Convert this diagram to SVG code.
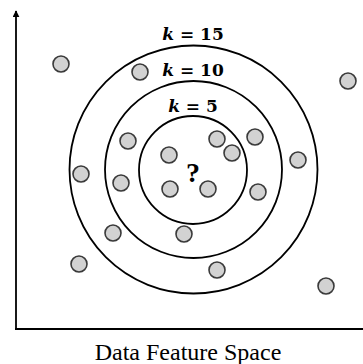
<svg xmlns="http://www.w3.org/2000/svg" width="363" height="364" viewBox="0 0 363 364">
<style>
.pt{fill:#d2d2d2;stroke:#3a3a3a;stroke-width:1.6}
.ring{fill:none;stroke:#000;stroke-width:1.8}
.ax{fill:none;stroke:#000;stroke-width:1.8}
.k{font-family:"DejaVu Serif",serif;font-weight:bold;font-size:17px;fill:#000;text-anchor:middle}
.cap{font-family:"Liberation Serif",serif;font-size:24px;fill:#000;text-anchor:middle}
</style>
<defs>
<marker id="arr" viewBox="0 0 10 10" refX="9" refY="5" markerWidth="7" markerHeight="7" markerUnits="userSpaceOnUse" orient="auto">
<path d="M0,0 L10,5 L0,10 z" fill="#000"/>
</marker>
</defs>
<g id="connectors">
<line class="ax" x1="16" y1="329" x2="16" y2="11" marker-end="url(#arr)"/>
<line class="ax" x1="15" y1="329" x2="363" y2="329"/>
</g>
<g id="rings">
<circle id="k15" class="ring" cx="193.5" cy="169.5" r="124"/>
<circle id="k10" class="ring" cx="193.5" cy="169.5" r="88.5"/>
<circle id="k5" class="ring" cx="193" cy="170" r="54"/>
</g>
<g id="labels">
<text class="k" x="193" y="40"><tspan font-style="italic">k</tspan> = 15</text>
<text class="k" x="193" y="76"><tspan font-style="italic">k</tspan> = 10</text>
<text class="k" x="193" y="112"><tspan font-style="italic">k</tspan> = 5</text>
<text id="query" x="193" y="182" font-family="Liberation Serif,serif" font-weight="bold" font-size="28" text-anchor="middle">?</text>
</g>
<g id="points">
<circle class="pt" cx="61" cy="64" r="8"/>
<circle class="pt" cx="140" cy="72" r="8"/>
<circle class="pt" cx="348" cy="81" r="8"/>
<circle class="pt" cx="128" cy="141" r="8"/>
<circle class="pt" cx="217" cy="139" r="8"/>
<circle class="pt" cx="255" cy="137" r="8"/>
<circle class="pt" cx="232" cy="153" r="8"/>
<circle class="pt" cx="169" cy="155" r="8"/>
<circle class="pt" cx="298" cy="160" r="8"/>
<circle class="pt" cx="81" cy="174" r="8"/>
<circle class="pt" cx="121" cy="183" r="8"/>
<circle class="pt" cx="170" cy="189" r="8"/>
<circle class="pt" cx="208" cy="189" r="8"/>
<circle class="pt" cx="258" cy="192" r="8"/>
<circle class="pt" cx="113" cy="233" r="8"/>
<circle class="pt" cx="184" cy="234" r="8"/>
<circle class="pt" cx="79" cy="264" r="8"/>
<circle class="pt" cx="217" cy="270" r="8"/>
<circle class="pt" cx="326" cy="286" r="8"/>
</g>
<text id="caption" class="cap" x="188" y="360">Data Feature Space</text>
</svg>
